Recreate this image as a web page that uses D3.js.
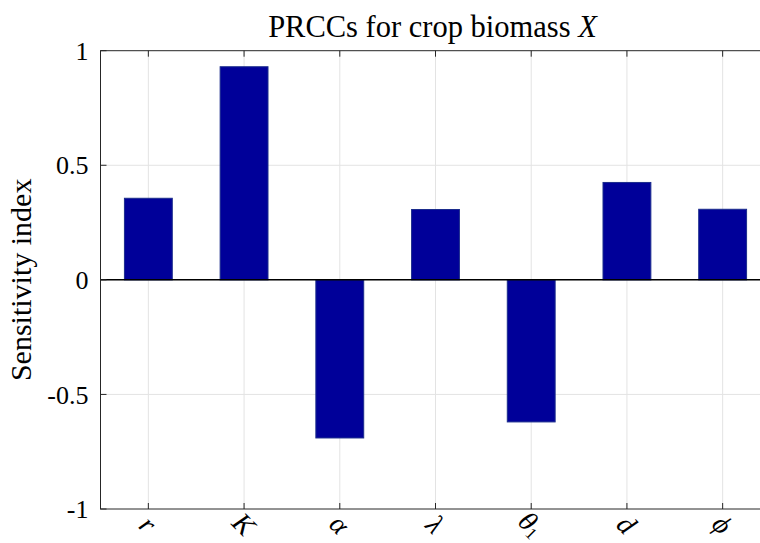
<!DOCTYPE html>
<html>
<head>
<meta charset="utf-8">
<script src="https://cdn.jsdelivr.net/npm/d3@7"></script>
<style>
  body { margin: 0; background: #fff; }
  svg { display: block; }
</style>
</head>
<body>
<svg id="chart" width="760" height="543"></svg>
<script>
// Parameter names (LaTeX-style, "_" marks a subscript)
const params = ["r", "K", "α", "λ", "θ_1", "d", "ϕ"];
// Partial rank correlation coefficients for crop biomass X
const prcc = [0.356, 0.930, -0.690, 0.307, -0.620, 0.425, 0.308];
// Y axis ticks and their labels
const yTicks = [-1, -0.5, 0, 0.5, 1];
const yTickLabels = ["-1", "-0.5", "0", "0.5", "1"];

const serif = "'Liberation Serif', 'DejaVu Serif', serif";
const axisColor = "#262626";
const gridColor = "#e3e3e3";
const barFill = "#000099";
const barEdge = "#1b2c8c";

const svg = d3.select("#chart");
const plot = { left: 100.5, right: 770.5, top: 50.7, bottom: 509 };

const x = d3.scaleLinear().domain([0.5, params.length + 0.5]).range([plot.left, plot.right]);
const y = d3.scaleLinear().domain([-1, 1]).range([plot.bottom, plot.top]);
const barWidth = 0.5;

// Grid
const grid = svg.append("g");
grid.selectAll("line.vg").data(params).enter().append("line")
  .attr("x1", (d, i) => x(i + 1)).attr("x2", (d, i) => x(i + 1))
  .attr("y1", plot.top).attr("y2", plot.bottom)
  .attr("stroke", gridColor).attr("stroke-width", 1);
grid.selectAll("line.hg").data(yTicks.slice(1, -1)).enter().append("line")
  .attr("x1", plot.left).attr("x2", plot.right)
  .attr("y1", d => y(d)).attr("y2", d => y(d))
  .attr("stroke", gridColor).attr("stroke-width", 1);

// Bars
svg.append("g").selectAll("rect").data(prcc).enter().append("rect")
  .attr("x", (d, i) => x(i + 1 - barWidth / 2))
  .attr("width", x(1 + barWidth) - x(1))
  .attr("y", d => y(Math.max(0, d)))
  .attr("height", d => Math.abs(y(d) - y(0)))
  .attr("fill", barFill)
  .attr("stroke", barEdge)
  .attr("stroke-width", 1);

// Baseline at zero
svg.append("line")
  .attr("x1", plot.left).attr("x2", plot.right)
  .attr("y1", y(0)).attr("y2", y(0))
  .attr("stroke", "#000").attr("stroke-width", 1.5);

// Axis box
svg.append("rect")
  .attr("x", plot.left).attr("y", plot.top)
  .attr("width", plot.right - plot.left).attr("height", plot.bottom - plot.top)
  .attr("fill", "none").attr("stroke", axisColor).attr("stroke-width", 1);

// Tick marks (inside, on all four sides)
const tickLen = 6;
const ticks = svg.append("g").attr("stroke", axisColor).attr("stroke-width", 1);
params.forEach((p, i) => {
  ticks.append("line").attr("x1", x(i + 1)).attr("x2", x(i + 1))
    .attr("y1", plot.bottom).attr("y2", plot.bottom - tickLen);
  ticks.append("line").attr("x1", x(i + 1)).attr("x2", x(i + 1))
    .attr("y1", plot.top).attr("y2", plot.top + tickLen);
});
yTicks.forEach(t => {
  ticks.append("line").attr("x1", plot.left).attr("x2", plot.left + tickLen)
    .attr("y1", y(t)).attr("y2", y(t));
  ticks.append("line").attr("x1", plot.right).attr("x2", plot.right - tickLen)
    .attr("y1", y(t)).attr("y2", y(t));
});

// Y tick labels
svg.append("g").selectAll("text").data(yTicks).enter().append("text")
  .attr("x", plot.left - 12)
  .attr("y", d => y(d))
  .attr("dy", "0.35em")
  .attr("text-anchor", "end")
  .attr("font-family", serif)
  .attr("font-size", 26)
  .attr("fill", "#000")
  .text((d, i) => yTickLabels[i]);

// X tick labels: italic math symbols, rotated 45 degrees
const xl = svg.append("g");
params.forEach((p, i) => {
  const g = xl.append("g")
    .attr("transform", `translate(${x(i + 1)},${plot.bottom + 15}) rotate(45)`);
  const t = g.append("text")
    .attr("text-anchor", "middle")
    .attr("dy", "0.35em")
    .attr("font-family", serif)
    .attr("font-style", "italic")
    .attr("font-size", 28)
    .attr("fill", "#000");
  const parts = p.split("_");
  t.append("tspan").text(parts[0]);
  if (parts[1]) {
    t.append("tspan").attr("font-size", 17).attr("font-style", "normal")
      .attr("dy", "0.15em").text(parts[1]);
  }
});

// Y axis label
svg.append("text")
  .attr("transform", `translate(31,${y(0)}) rotate(-90)`)
  .attr("text-anchor", "middle")
  .attr("font-family", serif)
  .attr("font-size", 30)
  .attr("fill", "#000")
  .text("Sensitivity index");

// Title
const title = svg.append("text")
  .attr("x", (plot.left + plot.right) / 2 - 3)
  .attr("y", 37)
  .attr("text-anchor", "middle")
  .attr("font-family", serif)
  .attr("font-size", 30.5)
  .attr("fill", "#000");
title.append("tspan").text("PRCCs for crop biomass ");
title.append("tspan").attr("font-style", "italic").text("X");
</script>
</body>
</html>
